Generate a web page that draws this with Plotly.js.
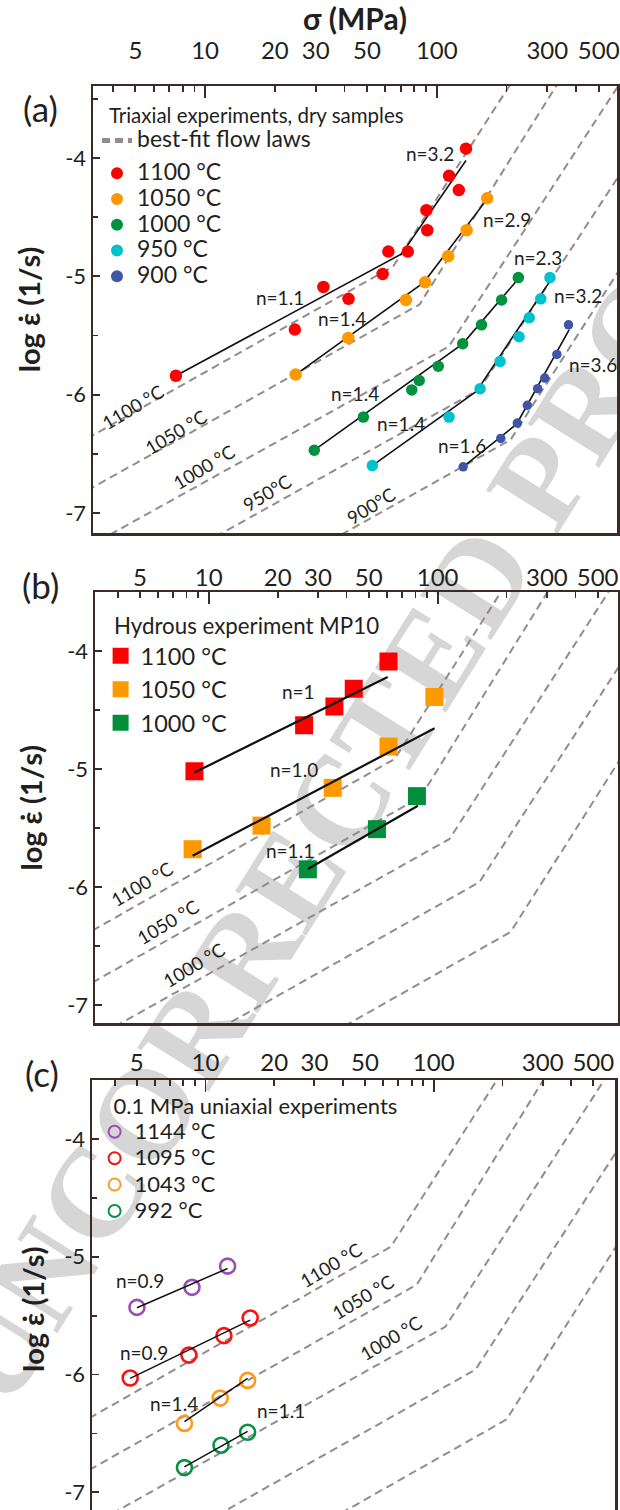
<!DOCTYPE html>
<html>
<head>
<meta charset="utf-8">
<script src="https://cdn.plot.ly/plotly-3.0.1.min.js"></script>
<style>html,body{margin:0;padding:0;background:#fff;overflow:hidden}</style>
</head>
<body>
<div id="chart" style="width:620px;height:1510px"></div>
<script>
// ---------------- tick labels ----------------
const sigmaTickVals = [5, 10, 20, 30, 50, 100, 300, 500];
const sigmaTickText = ['5', '10', '20', '30', '50', '100', '300', '500'];
const sigmaMinorVals = [4, 6, 7, 8, 9, 40, 60, 70, 80, 90, 200, 400];
const sigmaLongTicks = [10, 100];
const rateTickVals = [-7, -6, -5, -4];
const rateTickText = ['-7', '-6', '-5', '-4'];
const rateMinorVals = [-6.5, -5.5, -4.5, -3.5];

// ---------------- best-fit flow laws (sigma MPa, log strain rate) ----------------
const flowLabels = ['1100 °C', '1050 °C', '1000 °C', '950°C', '900°C'];
const flowSig1100 = [3.1, 64.9, 220];   const flowEps1100 = [-6.37, -4.915, -3.30];
const flowSig1050 = [3.1, 84.3, 350];   const flowEps1050 = [-6.81, -5.237, -3.30];
const flowSig1000 = [3.1, 112.7, 650];  const flowEps1000 = [-7.29, -5.593, -3.30];
const flowSig950  = [4.5, 152.4, 650];  const flowEps950  = [-7.63, -5.958, -4.07];
const flowSig900  = [10, 208.4, 650];   const flowEps900  = [-7.83, -6.381, -4.87];

// ---------------- (a) triaxial experiments, dry samples ----------------
const tempsA = ['1100 °C', '1050 °C', '1000 °C', '950 °C', '900 °C'];
const sigA1100 = [7.48, 24.4, 32.4, 41.6, 58.4, 61.8, 75.0, 90.2, 91.0, 113, 124.5, 133.7];
const epsA1100 = [-5.84, -5.45, -5.09, -5.19, -4.98, -4.79, -4.79, -4.44, -4.61, -4.15, -4.27, -3.92];
const sigA1050 = [24.6, 41.5, 73.6, 89.0, 112, 134.5, 165];
const epsA1050 = [-5.83, -5.52, -5.20, -5.05, -4.83, -4.61, -4.34];
const sigA1000 = [29.6, 48.2, 78, 84, 101.5, 129.4, 156, 190.5, 225];
const epsA1000 = [-6.47, -6.19, -5.96, -5.88, -5.76, -5.57, -5.41, -5.20, -5.01];
const sigA950 = [52.7, 113, 153.8, 187.5, 226.5, 250.7, 281, 308];
const epsA950 = [-6.60, -6.19, -5.95, -5.72, -5.51, -5.35, -5.19, -5.01];
const sigA900 = [130, 189, 222.7, 246, 272.5, 292.5, 330, 370.5];
const epsA900 = [-6.61, -6.37, -6.24, -6.09, -5.95, -5.86, -5.66, -5.41];
// fitted lines (a)
const fitSigA1100 = [7.48, 70.5, 133.7]; const fitEpsA1100 = [-5.84, -4.81, -4.02];
const fitSigA1050 = [24.6, 88, 161.5];   const fitEpsA1050 = [-5.83, -5.05, -4.37];
const fitSigA1000 = [29.6, 129.4, 225];  const fitEpsA1000 = [-6.47, -5.57, -5.02];
const fitSigA950  = [52.7, 148.6, 308];  const fitEpsA950  = [-6.60, -5.97, -5.04];
const fitSigA900  = [130, 221, 373];     const fitEpsA900  = [-6.61, -6.25, -5.45];

// ---------------- (b) hydrous experiment MP10 ----------------
const tempsB = ['1100 °C', '1050 °C', '1000 °C'];
const sigB1100 = [8.66, 26.1, 35.4, 43, 61];   const epsB1100 = [-5.02, -4.63, -4.47, -4.32, -4.09];
const sigB1050 = [8.5, 17, 34.8, 61, 96.8];    const epsB1050 = [-5.68, -5.48, -5.16, -4.81, -4.39];
const sigB1000 = [27.1, 54.3, 81.2];           const epsB1000 = [-5.85, -5.51, -5.23];
const fitSigB1100 = [8.66, 60.5]; const fitEpsB1100 = [-5.03, -4.22];
const fitSigB1050 = [8.5, 97];    const fitEpsB1050 = [-5.735, -4.655];
const fitSigB1000 = [27.1, 82];   const fitEpsB1000 = [-5.847, -5.311];

// ---------------- (c) 0.1 MPa uniaxial experiments ----------------
const tempsC = ['1144 °C', '1095 °C', '1043 °C', '992 °C'];
const sigC1144 = [5.01, 8.73, 12.5];          const epsC1144 = [-5.43, -5.26, -5.08];
const sigC1095 = [4.68, 8.46, 12.05, 15.7];   const epsC1095 = [-6.03, -5.835, -5.67, -5.52];
const sigC1043 = [8.09, 11.6, 15.3];          const epsC1043 = [-6.415, -6.20, -6.05];
const sigC992  = [8.09, 11.7, 15.3];          const epsC992  = [-6.79, -6.60, -6.49];
const fitSigC1144 = [5.01, 12.5];  const fitEpsC1144 = [-5.433, -5.10];
const fitSigC1095 = [4.68, 15.7];  const fitEpsC1095 = [-6.033, -5.538];
const fitSigC1043 = [8.09, 15.3];  const fitEpsC1043 = [-6.40, -6.033];
const fitSigC992  = [8.09, 15.3];  const fitEpsC992  = [-6.784, -6.482];

// ---------------- styling ----------------
const W = 620, H = 1510;
const INK = '#231f20', FRAME = '#3b2a25', DASH = '#968b8b', FIT = '#111111';
const FONT = 'Lato, "Open Sans", sans-serif';
const colA = ['#ff0000', '#ff9900', '#00923f', '#00c2cf', '#3f55a6'];
const sizeA = [12.5, 12.5, 11.5, 11.5, 9.5];
const colB = ['#ff0000', '#ff9900', '#00903c'];
const colC = ['#9b4db3', '#ff1010', '#ff9a1a', '#0c9142'];

const flowSig = [flowSig1100, flowSig1050, flowSig1000, flowSig950, flowSig900];
const flowEps = [flowEps1100, flowEps1050, flowEps1000, flowEps950, flowEps900];

function span(t, s) { return '<span style="font-size:' + s + 'px">' + t + '</span>'; }

function flowTraces(xa, ya, leg, showFirst) {
  return flowSig.map((s, i) => ({
    type: 'scatter', mode: 'lines', x: s, y: flowEps[i], xaxis: xa, yaxis: ya,
    line: { color: DASH, width: 2, dash: '8px,5px' },
    name: span('best-fit flow laws', 23), showlegend: showFirst && i === 0,
    legend: leg, legendgroup: 'flow' + xa, hoverinfo: 'skip'
  }));
}
function lineTrace(x, y, xa, ya, w) {
  return { type: 'scatter', mode: 'lines', x, y, xaxis: xa, yaxis: ya,
    line: { color: FIT, width: w }, showlegend: false, hoverinfo: 'skip' };
}

const traces = [];
// (a)
traces.push(...flowTraces('x', 'y', 'legend', true));
[[fitSigA1100, fitEpsA1100], [fitSigA1050, fitEpsA1050], [fitSigA1000, fitEpsA1000],
 [fitSigA950, fitEpsA950], [fitSigA900, fitEpsA900]].forEach(p => traces.push(lineTrace(p[0], p[1], 'x4', 'y', 1.6)));
[[sigA1100, epsA1100], [sigA1050, epsA1050], [sigA1000, epsA1000], [sigA950, epsA950], [sigA900, epsA900]]
  .forEach((p, i) => traces.push({
    type: 'scatter', mode: 'markers', x: p[0], y: p[1], xaxis: 'x4', yaxis: 'y',
    marker: { color: colA[i], size: sizeA[i], line: { width: 0 } },
    name: span(tempsA[i], 23), legend: 'legend', legendgroup: 'expA', hoverinfo: 'skip'
  }));
// (b)
traces.push(...flowTraces('x2', 'y2', 'legend2', false));
[[sigB1100, epsB1100], [sigB1050, epsB1050], [sigB1000, epsB1000]]
  .forEach((p, i) => traces.push({
    type: 'scatter', mode: 'markers', x: p[0], y: p[1], xaxis: 'x5', yaxis: 'y2',
    marker: { color: colB[i], size: 18, symbol: 'square', line: { width: 0 } },
    name: tempsB[i], legend: 'legend2', hoverinfo: 'skip'
  }));
[[fitSigB1100, fitEpsB1100], [fitSigB1050, fitEpsB1050], [fitSigB1000, fitEpsB1000]]
  .forEach(p => traces.push(lineTrace(p[0], p[1], 'x5', 'y2', 2.2)));
// (c)
traces.push(...flowTraces('x3', 'y3', 'legend3', false));
[[sigC1144, epsC1144], [sigC1095, epsC1095], [sigC1043, epsC1043], [sigC992, epsC992]]
  .forEach((p, i) => traces.push({
    type: 'scatter', mode: 'markers', x: p[0], y: p[1], xaxis: 'x6', yaxis: 'y3',
    marker: { color: colC[i], size: 15, symbol: 'circle-open', line: { width: 2.6, color: colC[i] } },
    name: span(tempsC[i], 22), legend: 'legend3', hoverinfo: 'skip'
  }));
[[fitSigC1144, fitEpsC1144], [fitSigC1095, fitEpsC1095], [fitSigC1043, fitEpsC1043], [fitSigC992, fitEpsC992]]
  .forEach(p => traces.push(lineTrace(p[0], p[1], 'x6', 'y3', 1.5)));

// ---------------- axes ----------------
function xAxis(dom, rng, anchor, standoff, mirror, title) {
  const a = {
    domain: dom, range: rng, type: 'log', anchor, side: 'top', showline: true, linecolor: FRAME, linewidth: 2.5, mirror,
    ticks: 'inside', ticklen: 6, tickwidth: 1.8, tickcolor: FRAME, tickmode: 'array',
    tickvals: sigmaTickVals, ticktext: sigmaTickText, tickfont: { size: 24, color: INK },
    ticklabelstandoff: standoff, showgrid: false, zeroline: false, fixedrange: true,
    minor: { ticks: 'inside', ticklen: 6, tickwidth: 1.8, tickcolor: FRAME, tickmode: 'array', tickvals: sigmaMinorVals, showgrid: false }
  };
  if (title) a.title = { text: 'σ (MPa)', font: { size: 30, weight: 700, color: INK }, standoff: 0 };
  return a;
}
function xOverlay(over, rng, anchor) {
  return { overlaying: over, anchor, type: 'log', range: rng, side: 'top', showline: false,
    ticks: 'inside', ticklen: 12, tickwidth: 1.8, tickcolor: FRAME, tickmode: 'array',
    tickvals: sigmaLongTicks, showticklabels: false, showgrid: false, zeroline: false, fixedrange: true };
}
function yAxis(dom, rng, anchor, title) {
  const a = {
    domain: dom, range: rng, anchor, side: 'left', showline: true, linecolor: FRAME, linewidth: 2.5, mirror: true,
    ticks: 'inside', ticklen: 7, tickwidth: 1.8, tickcolor: FRAME, tickmode: 'array',
    tickvals: rateTickVals, ticktext: rateTickText, tickfont: { size: 22, color: INK },
    showgrid: false, zeroline: false, fixedrange: true,
    minor: { ticks: 'inside', ticklen: 5, tickwidth: 1.8, tickcolor: FRAME, tickmode: 'array', tickvals: rateMinorVals, showgrid: false }
  };
  if (title) a.title = { text: 'log ε̇ (1/s)', font: { size: 29, weight: 700, color: INK }, standoff: 16 };
  return a;
}
const px = v => v / W, py = v => 1 - v / H;
const rxA = [0.516, 2.778], rxB = [0.503, 2.788], rxC = [0.503, 2.794];

// ---------------- annotations ----------------
function note(t, x, y, size, angle) {
  return { text: t, x: px(x), y: py(y), xref: 'paper', yref: 'paper', showarrow: false,
    xanchor: 'center', yanchor: 'middle', textangle: angle || 0, font: { size, color: INK, family: FONT } };
}
const NS = 19, LS = 18.5;
const annotations = [
  note('(a)', 40, 108, 35), note('(b)', 40, 585, 35), note('(c)', 42, 1073, 35),
  // (a)
  note('n=3.2', 430, 154, NS), note('n=2.9', 507, 220, NS), note('n=2.3', 538, 257, NS),
  note('n=3.2', 578, 295, NS), note('n=3.6', 593, 364, NS), note('n=1.1', 280, 297, NS),
  note('n=1.4', 342, 319, NS), note('n=1.4', 355, 394, NS), note('n=1.4', 401, 424, NS),
  note('n=1.6', 462, 445, NS),
  note(flowLabels[0], 133, 407, LS, -31), note(flowLabels[1], 176, 432, LS, -31),
  note(flowLabels[2], 204, 467, LS, -31), note(flowLabels[3], 267, 493, LS, -31),
  note(flowLabels[4], 371, 506, LS, -31),
  // (b)
  note('n=1', 298, 692, NS), note('n=1.0', 294, 769, NS), note('n=1.1', 290, 850, NS),
  note(flowLabels[0], 142, 884, LS, -31), note(flowLabels[1], 168, 922, LS, -31),
  note(flowLabels[2], 194, 965, LS, -31),
  // (c)
  note('n=0.9', 140, 1280, NS), note('n=0.9', 144, 1352, NS), note('n=1.4', 174, 1403, NS),
  note('n=1.1', 281, 1410, NS),
  note(flowLabels[0], 331, 1265, LS, -31), note(flowLabels[1], 363, 1297, LS, -31),
  note(flowLabels[2], 391, 1338, LS, -31),
  { text: 'log ε̇ (1/s)', x: px(32), y: py(1310), xref: 'paper', yref: 'paper', showarrow: false,
    textangle: -90, xanchor: 'center', yanchor: 'middle', font: { size: 29, weight: 700, color: INK, family: FONT } }
];

const legendBase = { bgcolor: 'rgba(0,0,0,0)', borderwidth: 0, xanchor: 'left', yanchor: 'top',
  itemwidth: 30, itemclick: false, itemdoubleclick: false };

const layout = {
  width: W, height: H, margin: { l: 0, r: 0, t: 0, b: 0 },
  paper_bgcolor: '#ffffff', plot_bgcolor: 'rgba(0,0,0,0)',
  font: { family: FONT, color: INK, size: 18 },
  xaxis: xAxis([px(93), px(617)], rxA, 'y', 15, true, true),
  yaxis: yAxis([py(533), py(86)], [-7.17, -3.39], 'x', true),
  xaxis4: xOverlay('x', rxA, 'y'),
  xaxis2: xAxis([px(95), px(618)], rxB, 'y2', -6, true, false),
  yaxis2: yAxis([py(1023.3), py(592.3)], [-7.155, -3.503], 'x2', true),
  xaxis5: xOverlay('x2', rxB, 'y2'),
  xaxis3: xAxis([px(92), px(615)], rxC, 'y3', -3, false, false),
  yaxis3: yAxis([0, py(1080)], [-7.15, -3.50], 'x3', false),
  xaxis6: xOverlay('x3', rxC, 'y3'),
  legend: Object.assign({}, legendBase, { x: px(97), y: py(96), font: { size: 17.5, color: INK, family: FONT },
    title: { text: '\u00a0\u00a0Triaxial experiments, dry samples', font: { size: 20.5, color: INK, family: FONT } },
    itemsizing: 'constant', traceorder: 'grouped', tracegroupgap: 7 }),
  legend2: Object.assign({}, legendBase, { x: px(100.6), y: py(605), font: { size: 23.5, color: INK, family: FONT },
    title: { text: '\u00a0\u00a0Hydrous experiment MP10', font: { size: 22.3, color: INK, family: FONT } },
    itemsizing: 'trace' }),
  legend3: Object.assign({}, legendBase, { x: px(94.6), y: py(1085), font: { size: 18, color: INK, family: FONT },
    title: { text: '\u00a0\u00a0\u00a00.1 MPa uniaxial experiments', font: { size: 22, color: INK, family: FONT } },
    itemsizing: 'constant' }),
  annotations,
  shapes: [{
    type: 'line', xref: 'paper', yref: 'paper', layer: 'below',
    x0: px(193), y0: py(1009), x1: px(511), y1: py(501),
    line: { width: 0, color: 'rgba(0,0,0,0)' },
    label: { text: 'UNCORRECTED PROOF', textposition: 'middle', yanchor: 'middle', textangle: 'auto',
      font: { family: '"Liberation Serif", "DejaVu Serif", serif', size: 128, color: '#d6d6d6', weight: 700 } }
  }]
};

Plotly.newPlot('chart', traces, layout, { staticPlot: true, displayModeBar: false });
</script>
</body>
</html>
